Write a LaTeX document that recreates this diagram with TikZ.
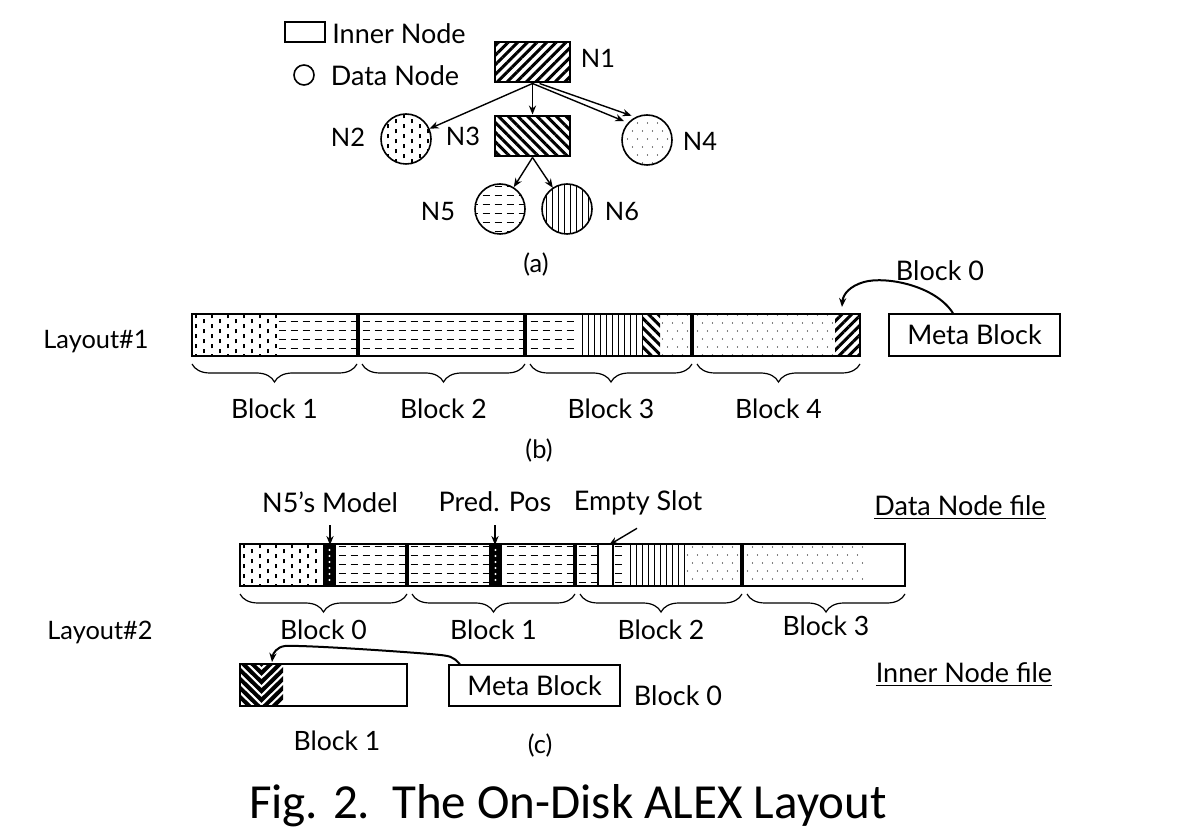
\documentclass[tikz,border=0pt]{standalone}
\usepackage{fontspec}
\setmainfont{Lato}
\newfontfamily\capfont{Carlito}
\usetikzlibrary{arrows.meta, patterns.meta, decorations.pathreplacing}

% fill patterns of the node contents
\tikzdeclarepattern{name=vdashes, type=uncolored,
  bottom left={(-.1pt,-.1pt)}, top right={(8.1pt,5.1pt)}, tile size={(8pt,5pt)},
  code={\tikzset{x=1pt,y=1pt}
    \draw[line width=.6pt] (2,.25) -- (2,2.25);
    \draw[line width=.6pt] (6,2.75) -- (6,4.75);}}
\tikzdeclarepattern{name=hdashes, type=uncolored,
  bottom left={(-.1pt,-.1pt)}, top right={(6.1pt,4.6pt)}, tile size={(6pt,4.5pt)},
  code={\tikzset{x=1pt,y=1pt}
    \draw[line width=.6pt] (1.25,2.25) -- (4.75,2.25);}}
\tikzdeclarepattern{name=sdots, type=uncolored,
  bottom left={(-.1pt,-.1pt)}, top right={(5.1pt,8.1pt)}, tile size={(5pt,8pt)},
  code={\tikzset{x=1pt,y=1pt}
    \fill (1.25,2) circle (.35);
    \fill (3.75,6) circle (.35);}}

\begin{document}
\begin{tikzpicture}[x=0.5pt, y=-0.5pt, font=\fontsize{13.5}{16}\selectfont,
  arr/.style={-{Stealth[length=4.5pt, width=3.6pt]}, line width=.7pt},
  innerbox/.style={draw, line width=.8pt, minimum width=37.5pt, minimum height=20pt, inner sep=0pt},
  databox/.style={draw, circle, line width=.8pt, minimum size=25pt, inner sep=0pt},
  metabox/.style={draw, line width=.8pt, minimum width=85.5pt, minimum height=21pt, inner sep=0pt},
  fillvd/.style={pattern=vdashes},
  fillhd/.style={pattern=hdashes},
  filldot/.style={pattern=sdots},
  fillvl/.style={pattern={Lines[angle=90, distance=3pt, line width=.5pt]}},
  fillne/.style={pattern={Lines[angle=45, distance=3.4pt, line width=1.5pt]}},
  fillnw/.style={pattern={Lines[angle=-45, distance=3.4pt, line width=1.5pt]}},
  blocksep/.style={line width=2pt},
  barline/.style={line width=.75pt},
  blockbrace/.style={decorate, decoration={brace, mirror, amplitude=9pt}, line width=.6pt},
  blocklabel/.style={font=\fontsize{13.3}{16}\selectfont},
  small/.style={font=\fontsize{12.7}{15}\selectfont}]
\useasboundingbox (0,0) rectangle (1189,839);

% (a) legend and tree
\node[draw, line width=.8pt, minimum width=20pt, minimum height=10pt, inner sep=0pt] (legin) at (305,32) {};
\node (leginT) at (399,34) {Inner Node};
\node[draw, circle, line width=.8pt, minimum size=10pt, inner sep=0pt] (legdata) at (304,75) {};
\node (legdataT) at (395,76) {Data Node};

\node[innerbox, fillne] (N1) at (532.5,62) {};
\node[innerbox, fillnw] (N3) at (532.5,136) {};
\node[databox, fillvd] (N2) at (406,139) {};
\node[databox, filldot] (N4) at (647,140) {};
\node[databox, fillhd] (N5) at (500,209) {};
\node[databox, fillvl] (N6) at (567,209) {};
\node[small] (N1T) at (598,58) {N1};
\node[small] (N2T) at (348,137) {N2};
\node[small] (N3T) at (463,136) {N3};
\node[small] (N4T) at (700,141) {N4};
\node[small] (N5T) at (438,212) {N5};
\node[small] (N6T) at (622,212) {N6};

\draw[arr] (N1.south) -- (N2);
\draw[arr] (N1.south) -- (N3.north);
\draw[arr, shorten >=2pt] (N1.south) -- (N4.138);
\draw[arr, shorten >=2pt] ([xshift=3.5pt]N1.south) -- (N4.117);
\draw[arr] (N3.south) -- (N5);
\draw[arr] (N3.south) -- (N6);
\node[small] (capa) at (536,265) {(a)};

% (b) layout 1
\node[small] (lay1) at (96,342) {Layout\#1};
\fill[fillvd] (192,314) rectangle (277,356);
\fill[fillhd] (277,314) rectangle (578,356);
\fill[fillvl] (578,314) rectangle (643,356);
\fill[fillnw] (643,314) rectangle (660,356);
\fill[filldot] (660,314) rectangle (835,356);
\fill[fillne] (835,314) rectangle (860,356);
\draw[barline] (192,314) rectangle (860,356);
\foreach \x in {358,525,692}
  \draw[blocksep] (\x,314) -- (\x,356);
\foreach \a/\b/\t [count=\i] in {192/357/Block 1, 362/525/Block 2, 530/692/Block 3, 697/860/Block 4} {
  \draw[blockbrace] (\a,364) -- (\b,364);
  \node[blocklabel] (lb\i) at ({(\a+\b)/2},409) {\t};
}
\node[metabox] (meta1) at (974.5,335) {Meta Block};
\node (meta1T) at (940,271) {Block 0};
\coordinate (tgt1) at (842,307);
\draw[-{Stealth[length=4.5pt, width=3.6pt]}, line width=1pt] ([xshift=-10.75pt]meta1.north)
  .. controls (935,285) and (885,276) .. (864,282)
  .. controls (850,286) and (843,294) .. (tgt1);
\node[small] (capb) at (539,451) {(b)};

% (c) layout 2
\node[small] (lay2) at (100,632) {Layout\#2};
\node (dfile) at (960,508) {\underline{Data Node file}};
\fill[fillvd] (240,544) rectangle (323,586);
\fill[black] (323,544) rectangle (336,586);
\fill[fillhd] (336,544) rectangle (489,586);
\fill[black] (489,544) rectangle (502,586);
\fill[fillhd] (502,544) rectangle (598,586);
\fill[fillhd] (613,544) rectangle (625,586);
\fill[fillvl] (625,544) rectangle (686,586);
\fill[filldot] (686,544) rectangle (866,586);
\foreach \y in {550,556,...,582} {
  \fill[white] (329.5,\y) circle (.6pt);
  \fill[white] (495.5,\y) circle (.6pt);
}
\draw[barline] (240,544) rectangle (905,586);
\draw[barline] (598,544) rectangle (613,586);
\foreach \x in {407,575,742}
  \draw[blocksep] (\x,544) -- (\x,586);
\foreach \a/\b/\t/\y [count=\i] in {240/407/Block 0/630, 412/575/Block 1/630, 580/742/Block 2/630, 747/905/Block 3/626} {
  \draw[blockbrace] (\a,594) -- (\b,594);
  \node[blocklabel] (lc\i) at ({(\a+\b)/2},\y) {\t};
}

\node (model) at (330,502) {N5’s Model};
\node (pred) at (495,502) {Pred. Pos};
\node (slot) at (638,503) {Empty Slot};
\coordinate (modtip) at (330,545);
\coordinate (predtip) at (495,545);
\coordinate (slottip) at (609,545);
\draw[arr] ([yshift=-3pt]model.south) -- (modtip);
\draw[arr] ([yshift=-3pt]pred.south) -- (predtip);
\draw[arr] ([xshift=-.5pt,yshift=-3pt]slot.south) -- (slottip);

% inner node file
\node (ifile) at (964,675) {\underline{Inner Node file}};
\begin{scope}
  \clip (240,664) rectangle (283,706);
  \foreach \y in {664,673,...,720}
    \draw[line width=2pt] (236,\y-25) -- (261.5,\y) -- (287,\y-25);
\end{scope}
\draw[barline] (240,664) rectangle (407,706);
\node[metabox, minimum height=20.5pt] (meta2) at (534.5,685.5) {Meta Block};
\node (meta2T) at (678,696) {Block 0};
\node[blocklabel] (ib1) at (337,741) {Block 1};
\coordinate (tgt2) at (272,662);
\draw[-{Stealth[length=4.5pt, width=3.6pt]}, line width=1pt] ([xshift=-37.25pt]meta2.north)
  .. controls (452,656) .. (430,654)
  .. controls (380,650) and (300,645) .. (285,646)
  .. controls (277,647) and (273,653) .. (tgt2);
\node[small] (capc) at (540,746) {(c)};

\node[font=\capfont\fontsize{24.5}{29}\selectfont] (cap) at (568,806) {Fig. 2.\ \ The On-Disk ALEX Layout};
\end{tikzpicture}
\end{document}
